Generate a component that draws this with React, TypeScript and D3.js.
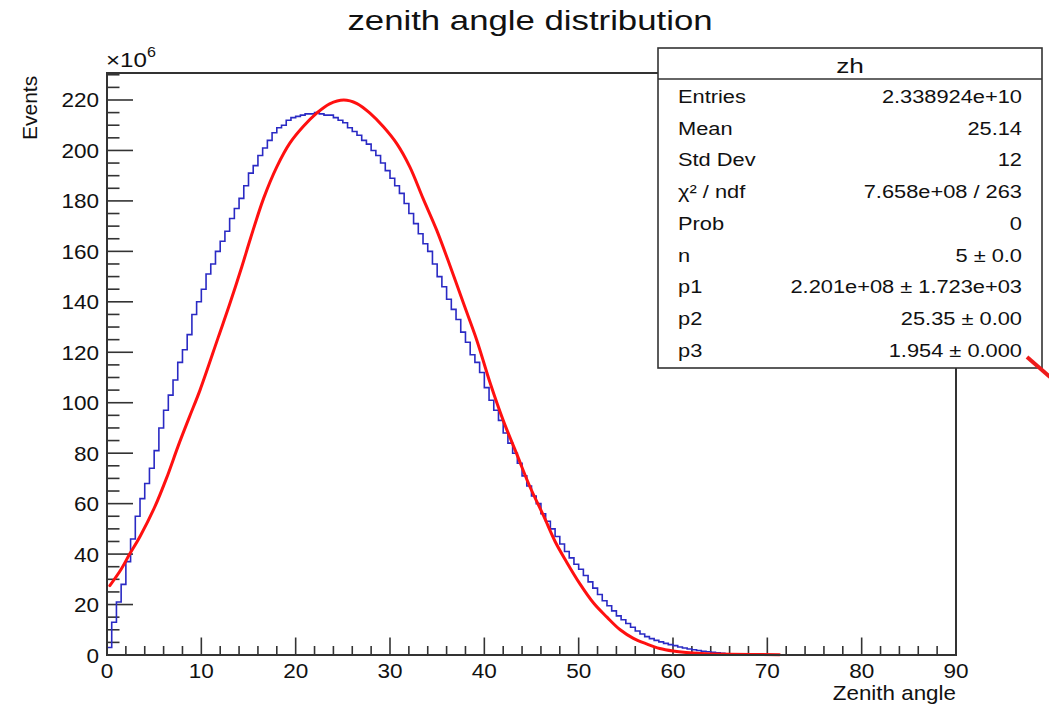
import React from "react";
import * as d3 from "d3";

// ---------- data ----------
const blueBinWidth = 0.5;
const blueBinStart = 0;
const blueCounts = [
  3, 13, 21, 28, 37, 46, 55, 62, 68, 74, 81, 90, 97, 103, 109, 116, 121, 127, 135, 140,
  145, 151, 155, 160, 164, 168, 173, 177, 181, 186, 191, 194, 198, 201, 204, 207, 209, 210, 212, 213,
  213.5, 214, 214.5, 214.5, 215, 214.5, 214, 214, 213, 212, 211, 209, 207.5, 206, 204, 202.5, 200, 198, 195, 192,
  189, 186, 183, 179, 175, 171, 167, 163, 160, 155, 150, 146, 141, 137, 133, 128, 124, 119, 116, 112,
  106, 101, 97, 93, 88, 84, 80, 76, 71, 67, 63, 60, 56, 53, 50, 47, 44, 41, 38.5, 36,
  34, 31.5, 29, 26.5, 24, 21.5, 19.5, 17.5, 15.5, 14, 12.5, 11, 9.5, 8.3, 7.3, 6.5, 5.8, 5.2, 4.6, 4.1,
  3.7, 3.2, 2.8, 2.4, 2.1, 1.8, 1.5, 1.3, 1.1, 0.9, 0.7, 0.5,
];

const fitX = [
  0.3, 1.5, 2.4, 3.5, 5.1, 6.3, 7.56, 8.7, 9.86, 11.8, 13.0, 14.3, 15.2, 16.6, 18.0, 19.4, 20.8, 22.2, 23.6, 25.1,
  26.5, 27.9, 29.3, 30.7, 32.1, 33.5, 34.95, 36.4, 37.8, 39.2, 40.6, 42.0, 43.4, 44.8, 46.3, 47.5, 48.7, 50.1, 51.6, 53.0,
  54.4, 55.8, 57.2, 58.6, 60.0, 61.4, 63.0, 66.0, 71.3,
];
const fitY = [
  27.5, 34, 40, 47, 59, 70, 83, 94, 105, 126, 139, 154, 165, 181, 193.5, 203, 209.5, 214.7, 218.5, 220,
  218.6, 214.7, 209.4, 202.8, 193.5, 181, 168.4, 153.9, 139.3, 124.8, 108, 93, 80, 67, 55, 45, 37, 28.4, 20.5, 15,
  10, 6.6, 4.4, 2.6, 1.6, 1.0, 0.6, 0.3, 0.1,
];

const xTickLabels = [0, 10, 20, 30, 40, 50, 60, 70, 80, 90];
const yTickLabels = [0, 20, 40, 60, 80, 100, 120, 140, 160, 180, 200, 220];

const statsTitle = "zh";
const statsLabels = ["Entries", "Mean", "Std Dev", "χ² / ndf", "Prob", "n", "p1", "p2", "p3"];
const statsValues = [
  "2.338924e+10",
  "25.14",
  "12",
  "7.658e+08 / 263",
  "0",
  "5 ± 0.0",
  "2.201e+08 ± 1.723e+03",
  "25.35 ± 0.00",
  "1.954 ± 0.000",
];

const title = "zenith angle distribution";
const xTitle = "Zenith angle";
const yTitle = "Events";

// ---------- layout ----------
const W = 1049;
const H = 707;
const FONT = "'Liberation Sans', Arial, Helvetica, sans-serif";
const AXIS = "#333";

const T = ({ x, y, sx = 1, anchor = "start", size, children, weight = "normal" }: any) => (
  <text
    transform={`translate(${x},${y}) scale(${sx},1)`}
    textAnchor={anchor}
    fontSize={size}
    fontFamily={FONT}
    fontWeight={weight}
    fill="#111"
  >
    {children}
  </text>
);

export default function App() {
  const x = d3.scaleLinear().domain([0, 90]).range([107, 956]);
  const y = d3.scaleLinear().domain([0, 230.7]).range([655, 73]);

  // histogram outline
  let hp = `M${x(blueBinStart)},${y(0)}`;
  blueCounts.forEach((v, i) => {
    const lo = blueBinStart + i * blueBinWidth;
    const hi = lo + blueBinWidth;
    hp += `L${x(lo)},${y(v)}L${x(hi)},${y(v)}`;
  });
  const lastHi = blueBinStart + blueCounts.length * blueBinWidth;
  hp += `L${x(lastHi)},${y(0)}`;

  const fitLine = d3
    .line<number>()
    .x((_, i) => x(fitX[i]))
    .y((d) => y(d))
    .curve(d3.curveCatmullRom.alpha(0.5));

  const yTicks = d3.range(0, 231, 5);
  const xTicks = d3.range(0, 91, 2);

  const rowY0 = 103;
  const rowDy = 31.7;

  return (
    <svg
      width={W}
      height={H}
      viewBox={`0 0 ${W} ${H}`}
      style={{ position: "absolute", left: 0, top: 0, background: "#fff" }}
    >
      <rect x={0} y={0} width={W} height={H} fill="#fff" />

      {/* title */}
      <T x={530} y={30} sx={1.22} anchor="middle" size={28.5}>
        {title}
      </T>

      {/* y ticks */}
      {yTicks.map((t) => (
        <line
          key={"yt" + t}
          x1={x(0)}
          x2={x(0) + (t % 20 === 0 ? 26 : 12.5)}
          y1={y(t)}
          y2={y(t)}
          stroke={AXIS}
          strokeWidth={1.6}
        />
      ))}
      {/* x ticks */}
      {xTicks.map((t) => (
        <line
          key={"xt" + t}
          x1={x(t)}
          x2={x(t)}
          y1={y(0)}
          y2={y(0) - (t % 10 === 0 ? 17.5 : 9)}
          stroke={AXIS}
          strokeWidth={1.6}
        />
      ))}

      {/* data */}
      <path d={hp} fill="none" stroke="#2a2ac4" strokeWidth={1.6} />
      <path d={fitLine(fitY) || ""} fill="none" stroke="#ff1010" strokeWidth={3} strokeLinejoin="round" strokeLinecap="round" />

      {/* frame */}
      <rect x={x(0)} y={y(230.7)} width={x(90) - x(0)} height={y(0) - y(230.7)} fill="none" stroke={AXIS} strokeWidth={2} />

      {/* y labels */}
      {yTickLabels.map((t) => (
        <T key={"yl" + t} x={99} y={y(t) + 7.5} sx={1.1} anchor="end" size={20.5}>
          {t}
        </T>
      ))}
      {/* x labels */}
      {xTickLabels.map((t) => (
        <T key={"xl" + t} x={x(t)} y={678} sx={1.1} anchor="middle" size={20.5}>
          {t}
        </T>
      ))}

      {/* exponent */}
      <text transform={`translate(106,67) scale(1.15,1)`} fontSize={21} fontFamily={FONT} fill="#111">
        ×10
        <tspan fontSize={14} dy={-10}>
          6
        </tspan>
      </text>

      {/* axis titles */}
      <text
        transform={`translate(37,140) rotate(-90)`}
        fontSize={21}
        fontFamily={FONT}
        fill="#111"
        textAnchor="start"
      >
        {yTitle}
      </text>
      <T x={956} y={700} sx={1.12} anchor="end" size={20}>
        {xTitle}
      </T>

      {/* stats box */}
      <rect x={658} y={48} width={384} height={320} fill="#fff" stroke={AXIS} strokeWidth={1.6} />
      <line x1={658} x2={1042} y1={79} y2={79} stroke={AXIS} strokeWidth={1.6} />
      <T x={850} y={73} sx={1.25} anchor="middle" size={21}>
        {statsTitle}
      </T>
      {statsLabels.map((l, i) => (
        <T key={"sl" + i} x={678} y={rowY0 + i * rowDy} sx={1.18} size={18.5}>
          {l}
        </T>
      ))}
      {statsValues.map((v, i) => (
        <T key={"sv" + i} x={1022} y={rowY0 + i * rowDy} sx={1.18} anchor="end" size={18.5}>
          {v}
        </T>
      ))}

      {/* red annotation stroke at the right edge */}
      <line x1={1027} y1={357} x2={1050} y2={377} stroke="#ee1b1b" strokeWidth={4} />
    </svg>
  );
}
